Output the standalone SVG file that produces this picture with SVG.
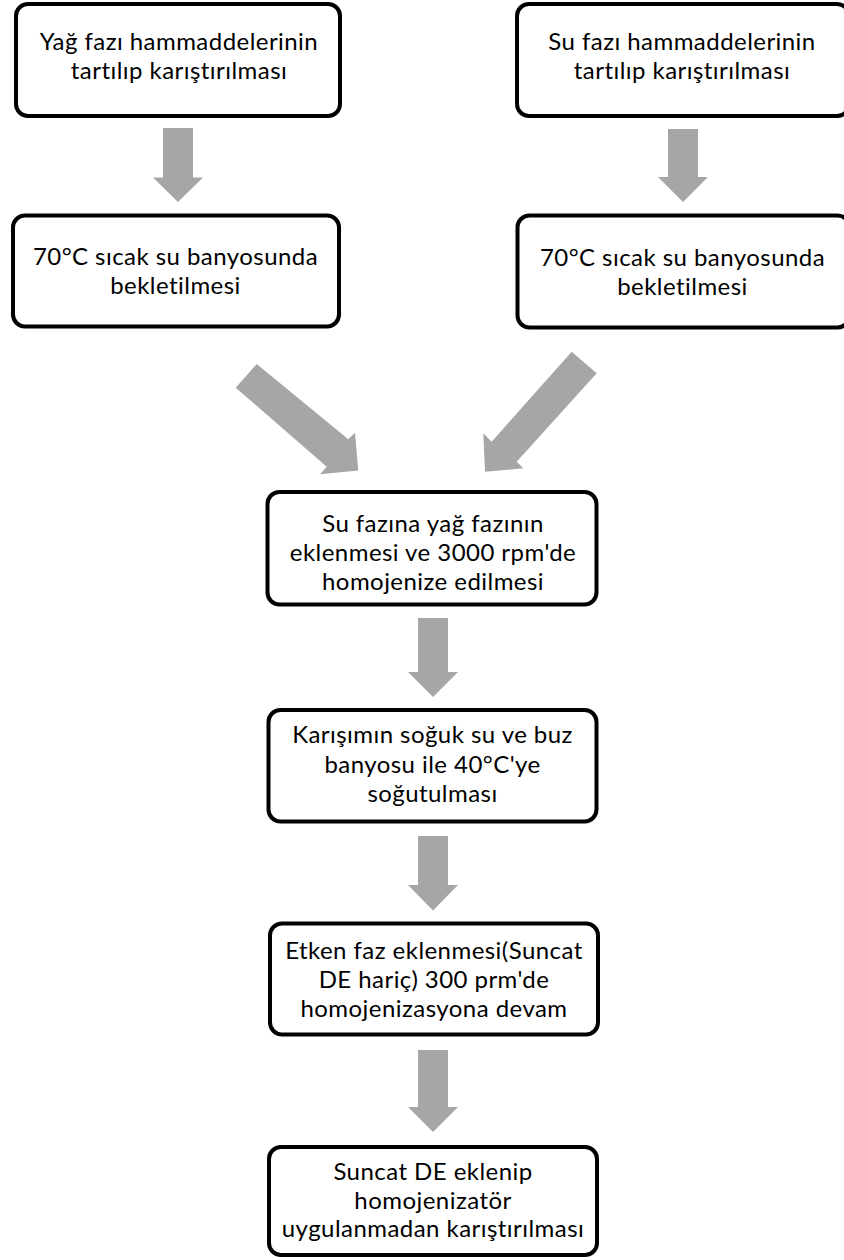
<svg xmlns="http://www.w3.org/2000/svg" width="844" height="1260" viewBox="0 0 844 1260">
<style>
.box{fill:#fff;stroke:#000;stroke-width:4}
.t{font-family:Lato,"Open Sans","Liberation Sans",sans-serif;font-size:24px;letter-spacing:0.45px;fill:#000;text-anchor:middle}
.arr{fill:#a6a6a6;stroke:none}
</style>
<rect width="844" height="1260" fill="#fff"/>
<g id="connectors">
<polygon class="arr" points="163,128 193,128 193,177.5 203,177.5 178,202 153,177.5 163,177.5"/>
<polygon class="arr" points="668,129 698,129 698,177 708,177 683,202 658,177 668,177"/>
<polygon class="arr" points="256.7,364 348.3,439.3 355,432.7 358.3,470.5 320,474.3 326.7,466.7 235.7,387.7"/>
<polygon class="arr" points="571.7,351.7 596.7,373.3 516.7,461.7 523.3,468.3 485,471.7 483.3,433.3 491.7,441.7"/>
<polygon class="arr" points="418,618 448,618 448,672 458,672 433,697 408,672 418,672"/>
<polygon class="arr" points="418,836 448,836 448,885 458,885 433,910.5 408,885 418,885"/>
<polygon class="arr" points="418,1050 448,1050 448,1107 458,1107 433,1132 408,1107 418,1107"/>
</g>
<g id="n1">
<rect class="box" x="16" y="4" width="324" height="112" rx="12"/>
<text class="t" x="179" y="50">Yağ fazı hammaddelerinin</text>
<text class="t" x="179" y="79">tartılıp karıştırılması</text>
</g>
<g id="n2">
<rect class="box" x="517" y="4" width="332" height="112" rx="12"/>
<text class="t" x="682" y="50">Su fazı hammaddelerinin</text>
<text class="t" x="682" y="79">tartılıp karıştırılması</text>
</g>
<g id="n3">
<rect class="box" x="13" y="215.5" width="326" height="111" rx="12"/>
<text class="t" x="175.5" y="265">70°C sıcak su banyosunda</text>
<text class="t" x="175.5" y="294">bekletilmesi</text>
</g>
<g id="n4">
<rect class="box" x="517.5" y="215.5" width="332" height="112" rx="12"/>
<text class="t" x="682.5" y="266">70°C sıcak su banyosunda</text>
<text class="t" x="682.5" y="295">bekletilmesi</text>
</g>
<g id="n5">
<rect class="box" x="267.5" y="492" width="329" height="112.5" rx="12"/>
<text class="t" x="433" y="532">Su fazına yağ fazının</text>
<text class="t" x="433" y="561">eklenmesi ve 3000 rpm'de</text>
<text class="t" x="433" y="590">homojenize edilmesi</text>
</g>
<g id="n6">
<rect class="box" x="268.5" y="710" width="328" height="111.5" rx="12"/>
<text class="t" x="432.5" y="743">Karışımın soğuk su ve buz</text>
<text class="t" x="432.5" y="772.5">banyosu ile 40°C'ye</text>
<text class="t" x="432.5" y="801.5">soğutulması</text>
</g>
<g id="n7">
<rect class="box" x="270" y="923.5" width="328" height="111" rx="12"/>
<text class="t" x="434" y="959">Etken faz eklenmesi(Suncat</text>
<text class="t" x="434" y="988">DE hariç) 300 prm'de</text>
<text class="t" x="434" y="1016.5">homojenizasyona devam</text>
</g>
<g id="n8">
<rect class="box" x="269" y="1147" width="328" height="108" rx="12"/>
<text class="t" x="433" y="1180">Suncat DE eklenip</text>
<text class="t" x="433" y="1208.5">homojenizatör</text>
<text class="t" x="433" y="1237">uygulanmadan karıştırılması</text>
</g>
</svg>
